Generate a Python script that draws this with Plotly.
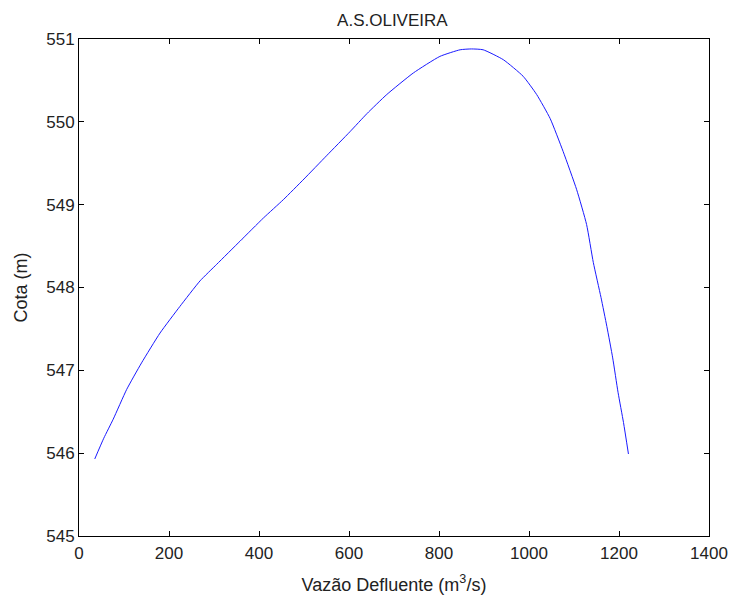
import plotly.graph_objects as go

title_text = "A.S.OLIVEIRA"
x_title = "Vazão Defluente (m<sup>3</sup>/s)"
y_title = "Cota (m)"

vazao = [35, 55, 76, 106, 139, 180, 224, 269, 306, 358, 410, 454, 500, 550,
         602, 640, 684, 743, 802, 847, 872, 898, 943, 987, 1017, 1047, 1076,
         1106, 1128, 1143, 1160, 1173, 1186, 1198, 1210, 1221]
cota = [545.93, 546.18, 546.41, 546.77, 547.09, 547.45, 547.77, 548.08,
        548.28, 548.56, 548.84, 549.06, 549.31, 549.59, 549.88, 550.10,
        550.33, 550.59, 550.79, 550.87, 550.88, 550.87, 550.75, 550.55,
        550.33, 550.04, 549.64, 549.18, 548.76, 548.30, 547.88, 547.53,
        547.15, 546.73, 546.37, 545.99]

x_ticks = [0, 200, 400, 600, 800, 1000, 1200, 1400]
y_ticks = [545, 546, 547, 548, 549, 550, 551]

FONT = "Liberation Sans, Arial, sans-serif"
TXT = "#222"

fig = go.Figure()
fig.add_trace(go.Scatter(x=vazao, y=cota, mode="lines",
                         line=dict(color="#1a1aff", width=1, shape="spline", smoothing=0.5),
                         showlegend=False))

axis_common = dict(showgrid=False, zeroline=False, showline=True, linecolor="black",
                   linewidth=1, mirror="ticks", ticks="inside", ticklen=5,
                   tickcolor="black", automargin=False,
                   tickfont=dict(family=FONT, size=17, color=TXT))

fig.update_layout(
    width=732, height=596,
    margin=dict(l=79, r=23, t=39, b=60),
    paper_bgcolor="white", plot_bgcolor="white",
    title=dict(text=title_text, x=0.536, xanchor="center", y=0.966, yanchor="middle",
               font=dict(family=FONT, size=17, color=TXT)),
    xaxis=dict(range=[0, 1400], tickvals=x_ticks, ticklabelstandoff=2,
               title=dict(text=x_title, standoff=15,
                          font=dict(family=FONT, size=18, color=TXT)),
               **axis_common),
    yaxis=dict(range=[545, 551], tickvals=y_ticks,
               title=dict(text=y_title, standoff=13,
                          font=dict(family=FONT, size=18, color=TXT)),
               **axis_common),
)

fig.write_html("out.html", config={"displayModeBar": False},
               post_script="document.body.style.margin='0';document.body.style.overflow='hidden';")
